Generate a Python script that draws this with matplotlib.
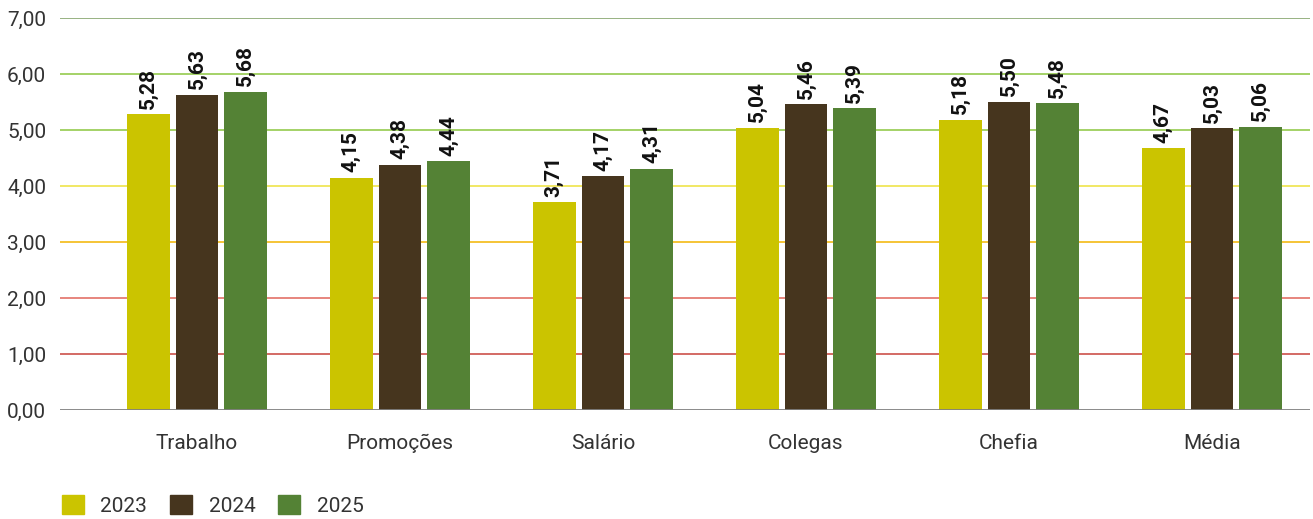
import matplotlib
matplotlib.use("Agg")
import matplotlib.pyplot as plt
from matplotlib.patches import Patch
import numpy as np

categories = ["Trabalho", "Promoções", "Salário", "Colegas", "Chefia", "Média"]
years = ["2023", "2024", "2025"]
v2023 = [5.28, 4.15, 3.71, 5.04, 5.18, 4.67]
v2024 = [5.63, 4.38, 4.17, 5.46, 5.50, 5.03]
v2025 = [5.68, 4.44, 4.31, 5.39, 5.48, 5.06]
yticks = [0, 1, 2, 3, 4, 5, 6, 7]

colors = ["#cbc400", "#46351e", "#548235"]
grid_colors = {1: "#c8413a", 2: "#e0645a", 3: "#f2b400", 4: "#eee23a",
               5: "#8cc63e", 6: "#8cc63e", 7: "#7c9e60"}

plt.rcParams["font.family"] = ["Roboto", "DejaVu Sans"]

fig = plt.figure(figsize=(13.13, 5.19), dpi=100)
ax = fig.add_axes([60 / 1313, 1 - 410 / 519, 1250 / 1313, 392 / 519])

x = np.arange(len(categories))
width = 0.21
step = 0.24
series = [v2023, v2024, v2025]

for yv, c in grid_colors.items():
    ax.axhline(yv, color=c, lw=1.1, zorder=1)
ax.axhline(0, color="#808080", lw=2, zorder=3)

for i, (vals, col) in enumerate(zip(series, colors)):
    pos = x + (i - 1) * step
    ax.bar(pos, vals, width=width, color=col, zorder=2)
    for px, v in zip(pos, vals):
        ax.annotate(f"{v:.2f}".replace(".", ","), (px, v),
                    xytext=(0, 4), textcoords="offset points",
                    rotation=90, ha="center", va="bottom",
                    fontsize=15, fontweight="bold", color="#111111")

ax.set_xlim(-0.675, 5.483)
ax.set_ylim(0, 7)
ax.set_yticks(yticks)
ax.set_yticklabels([f"{t:.2f}".replace(".", ",") for t in yticks])
ax.set_xticks(x)
ax.set_xticklabels(categories)
ax.tick_params(axis="both", length=0, labelsize=15, colors="#333333")
ax.tick_params(axis="x", pad=17)
ax.tick_params(axis="y", pad=10)
for s in ax.spines.values():
    s.set_visible(False)

handles = [Patch(color=c, label=y) for c, y in zip(colors, years)]
fig.legend(handles=handles, loc="lower left", bbox_to_anchor=(43 / 1313, -0.03),
           ncol=3, frameon=False, fontsize=15, handlelength=1.05,
           handleheight=1.05, handletextpad=0.8, columnspacing=1.1,
           labelcolor="#333333")

fig.savefig("out.png", dpi=100)
